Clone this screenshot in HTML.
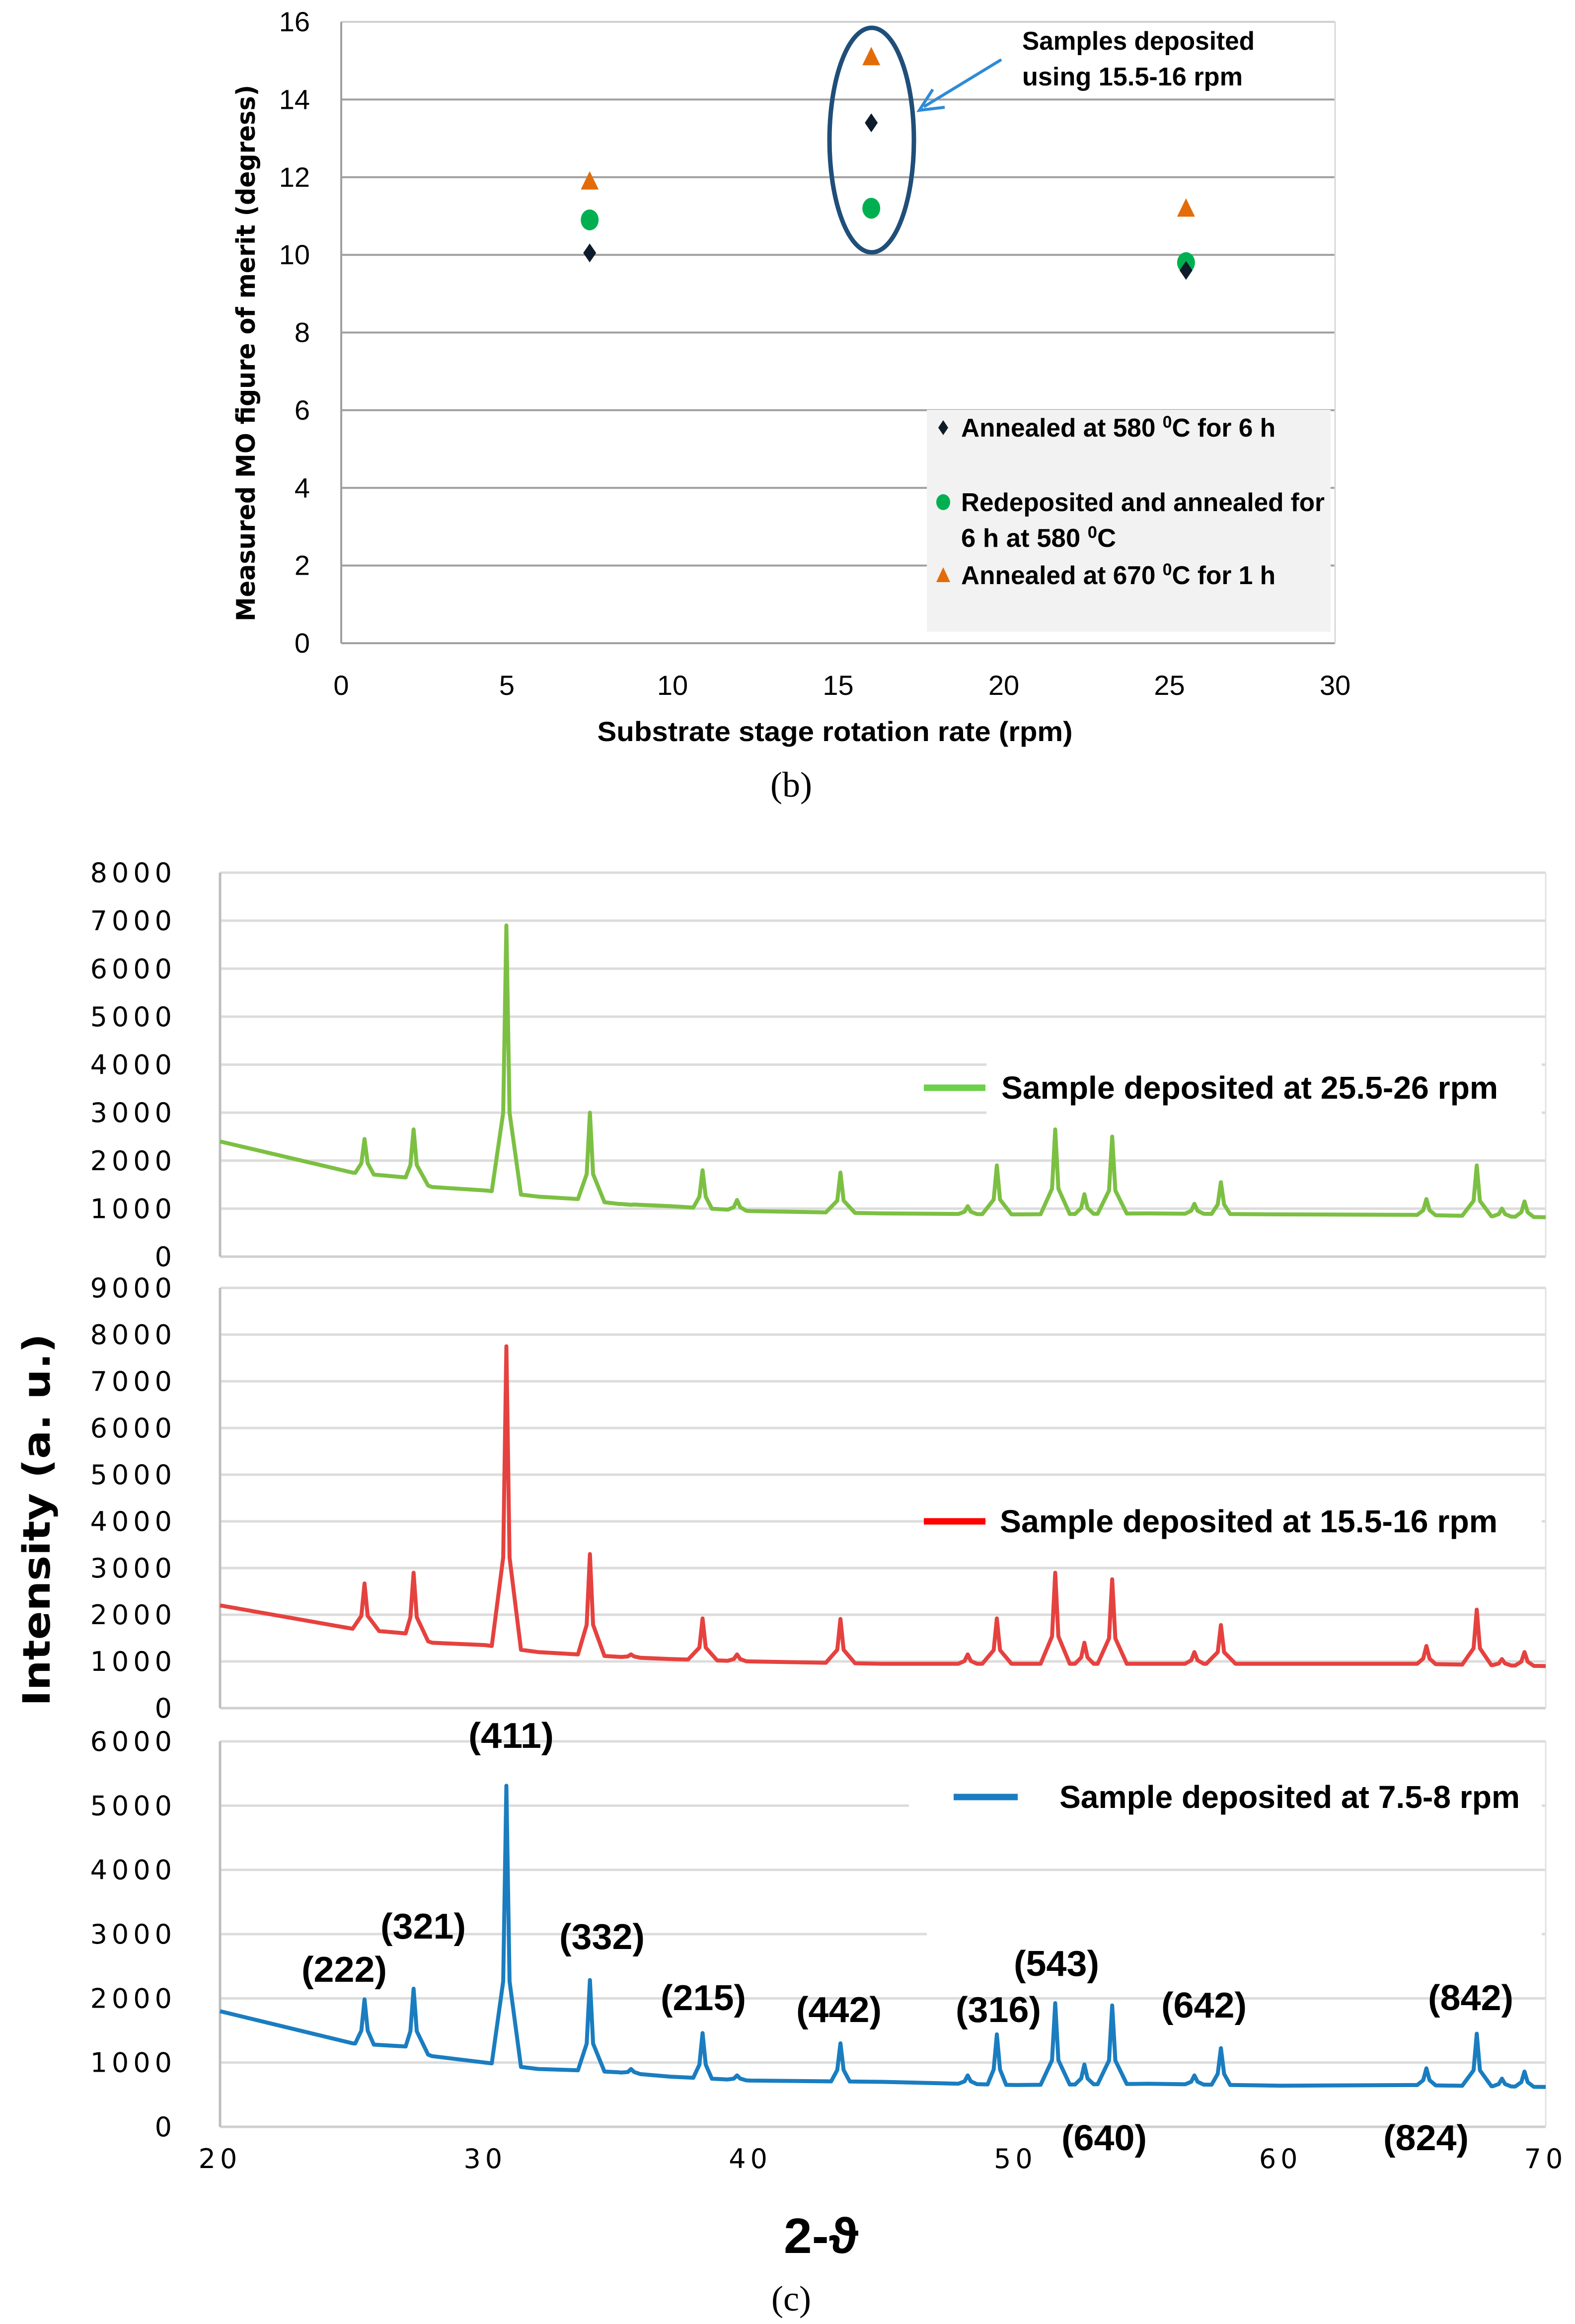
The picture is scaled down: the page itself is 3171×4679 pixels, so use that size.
<!DOCTYPE html>
<html>
<head>
<meta charset="utf-8">
<style>
html,body{margin:0;padding:0;background:#fff;}
svg{display:block;}
.cond{font-family:"Liberation Sans Narrow","Liberation Sans",sans-serif;font-weight:bold;fill:#000;}
.verd{font-family:"DejaVu Sans","Liberation Sans",sans-serif;fill:#000;}
.serif{font-family:"Liberation Serif",serif;fill:#000;}
</style>
</head>
<body>
<svg id="fig" xmlns="http://www.w3.org/2000/svg" width="3171" height="4679" viewBox="0 0 3171 4679">
<g id="chartB"></g>
<g id="chartC"></g>
</svg>
<script>
// ---------- Chart (b) data ----------
const rpmX = [7.5, 16, 25.5];
const annealed580 = [10.05, 13.4, 9.6];
const redeposited580 = [10.9, 11.2, 9.8];
const annealed670 = [11.9, 15.1, 11.2];
const bYTicks = [0, 2, 4, 6, 8, 10, 12, 14, 16];
const bXTicks = [0, 5, 10, 15, 20, 25, 30];

// ---------- Chart (c) data ----------
const xrdXTicks = [20, 30, 40, 50, 60, 70];
const greenYTicks = [0, 1000, 2000, 3000, 4000, 5000, 6000, 7000, 8000];
const redYTicks = [0, 1000, 2000, 3000, 4000, 5000, 6000, 7000, 8000, 9000];
const blueYTicks = [0, 1000, 2000, 3000, 4000, 5000, 6000];
const baseTheta = [20, 25, 27, 28, 30, 32, 33.5, 35, 37, 40, 45, 50, 55, 60, 65, 70];
const greenBase = [2400, 1750, 1650, 1450, 1380, 1250, 1200, 1100, 1050, 950, 900, 880, 900, 880, 870, 820];
const redBase = [2200, 1700, 1600, 1400, 1350, 1200, 1150, 1100, 1050, 1000, 950, 950, 950, 950, 950, 900];
const blueBase = [1800, 1300, 1250, 1100, 1000, 900, 880, 850, 780, 720, 700, 650, 670, 640, 650, 620];
const peakTheta = [25.45, 27.3, 30.8, 33.95, 35.5, 38.2, 39.5, 43.4, 48.2, 49.3, 51.5, 52.6, 53.65, 56.75, 57.75, 65.5, 67.4, 68.35, 69.2];
const greenPeaks = [2450, 2650, 6900, 3000, 1080, 1800, 1180, 1750, 1050, 1900, 2650, 1300, 2500, 1100, 1550, 1200, 1900, 1000, 1150];
const redPeaks = [2670, 2900, 7750, 3300, 1150, 1920, 1150, 1910, 1150, 1920, 2900, 1400, 2760, 1200, 1780, 1330, 2110, 1050, 1200];
const bluePeaks = [1985, 2150, 5310, 2285, 900, 1460, 800, 1300, 800, 1440, 1925, 970, 1890, 800, 1225, 910, 1450, 750, 860];
const hklLabels = ["(411)", "(321)", "(222)", "(332)", "(215)", "(442)", "(316)", "(543)", "(642)", "(842)", "(640)", "(824)"];

const NS = "http://www.w3.org/2000/svg";
function mk(parent, tag, attrs, text) {
  const e = document.createElementNS(NS, tag);
  for (const k in attrs) e.setAttribute(k, attrs[k]);
  if (text !== undefined) e.textContent = text;
  parent.appendChild(e);
  return e;
}

// ===== Chart b =====
(function () {
  const g = document.getElementById("chartB");
  const L = 687, R = 2688, T = 44, B = 1295;
  const xs = v => L + (v - 0) / 30 * (R - L);
  const ys = v => B - v / 16 * (B - T);
  bYTicks.forEach(v => {
    const ln = mk(g, "line", {x1: L, x2: R, y1: ys(v), y2: ys(v), stroke: v === 16 ? "#d0d0d0" : "#a0a0a0", "stroke-width": 4});
    
    
    const t = mk(g, "text", {x: 624, y: ys(v) + 19, "text-anchor": "end", "font-size": 56, class: "cond", style: "font-weight:normal"}, String(v));
    
    
  });
  mk(g, "line", {x1: L, x2: L, y1: T, y2: B, stroke: "#a0a0a0", "stroke-width": 4,  });
  mk(g, "line", {x1: R, x2: R, y1: T, y2: B, stroke: "#d8d8d8", "stroke-width": 3,  });
  bXTicks.forEach(v => {
    const t = mk(g, "text", {x: xs(v), y: 1399, "text-anchor": "middle", "font-size": 56, class: "cond", style: "font-weight:normal"}, String(v));
    
    
  });
  mk(g, "rect", {x: 1866, y: 825, width: 813, height: 447, fill: "#f2f2f2",  });
  mk(g, "ellipse", {cx: 1755, cy: 282, rx: 85, ry: 226, fill: "none", stroke: "#1f4e79", "stroke-width": 9,  });
  mk(g, "line", {x1: 2016, y1: 120, x2: 1860, y2: 215, stroke: "#2e8bd6", "stroke-width": 6,  });
  mk(g, "polyline", {points: "1878,180 1851,222 1902,216", fill: "none", stroke: "#2e8bd6", "stroke-width": 6,  });
  mk(g, "text", {x: 2058, y: 100, "font-size": 52, class: "cond", textLength: 468, lengthAdjust: "spacingAndGlyphs",  }, "Samples deposited");
  mk(g, "text", {x: 2058, y: 172, "font-size": 52, class: "cond", textLength: 444, lengthAdjust: "spacingAndGlyphs",  }, "using 15.5-16 rpm");

  function diamond(cx, cy, w, h) { return `${cx},${cy-h} ${cx+w},${cy} ${cx},${cy+h} ${cx-w},${cy}`; }
  function tri(cx, cy) { return `${cx},${cy-20} ${cx+18},${cy+17} ${cx-18},${cy+17}`; }
  rpmX.forEach((x, i) => {
    const p1 = mk(g, "polygon", {points: tri(xs(x), ys(annealed670[i])), fill: "#e36c09"});
    
    
    const p2 = mk(g, "ellipse", {cx: xs(x), cy: ys(redeposited580[i]), rx: 18, ry: 21, fill: "#00b050"});
    
    
    const p3 = mk(g, "polygon", {points: diamond(xs(x), ys(annealed580[i]), 13, 19), fill: "#0d1b2a"});
    
    
  });
  mk(g, "polygon", {points: diamond(1899, 861, 10, 15), fill: "#0d1b2a",  });
  mk(g, "ellipse", {cx: 1899, cy: 1011, rx: 14, ry: 16, fill: "#00b050",  });
  mk(g, "polygon", {points: "1899,1142 1913,1172 1885,1172", fill: "#e36c09",  });
  const lt = [
    [861, "Annealed at 580 ", "C for 6 h", 633, "legend-entry-580"],
    [1011, "Redeposited and annealed for", "", 732, "legend-entry-redeposited"],
    [1083, "6 h at 580 ", "C", 312, "legend-entry-redeposited-2"],
    [1158, "Annealed at 670 ", "C for 1 h", 633, "legend-entry-670"]
  ];
  lt.forEach(([y, a, b, w, nm]) => {
    const t = mk(g, "text", {x: 1935, y: y + 18, "font-size": 52, class: "cond", textLength: w, lengthAdjust: "spacingAndGlyphs"});
    
    
    mk(t, "tspan", {}, a);
    if (b) {
      mk(t, "tspan", {dy: -18, "font-size": 34}, "0");
      mk(t, "tspan", {dy: 18}, b);
    }
  });
  mk(g, "text", {x: 1681, y: 1492, "font-size": 56, "text-anchor": "middle", class: "cond", textLength: 957, lengthAdjust: "spacingAndGlyphs",  }, "Substrate stage rotation rate (rpm)");
  mk(g, "text", {x: 0, y: 0, "font-size": 52, "font-weight": "bold", "text-anchor": "middle", class: "verd", textLength: 1080, lengthAdjust: "spacingAndGlyphs", transform: "translate(513,711) rotate(-90)",  }, "Measured MO figure of merit (degress)");
  mk(g, "text", {x: 1593, y: 1604, "font-size": 72, "text-anchor": "middle", class: "serif",  }, "(b)");
})();

// ===== Chart c =====
(function () {
  const g = document.getElementById("chartC");
  const L = 443, R = 3112;
  const xs = v => L + (v - 20) / 50 * (R - L);
  function interp(xArr, yArr, x) {
    for (let i = 0; i < xArr.length - 1; i++) {
      if (x >= xArr[i] && x <= xArr[i + 1]) {
        const f = (x - xArr[i]) / (xArr[i + 1] - xArr[i]);
        return yArr[i] + f * (yArr[i + 1] - yArr[i]);
      }
    }
    return yArr[yArr.length - 1];
  }
  function panel(name, T, B, ticks, base, peaks, color, legColor, legX1, legX2, legTextX, legTextW, legY, legText, bgRects) {
    const max = ticks[ticks.length - 1];
    const ys = v => B - v / max * (B - T);
    const pg = mk(g, "g", {});
    
    
    ticks.forEach(v => {
      const ln = mk(pg, "line", {x1: L, x2: R, y1: ys(v), y2: ys(v), stroke: v === 0 ? "#cfcfcf" : "#dcdcdc", "stroke-width": 5});
      
      
      const t = mk(pg, "text", {x: 355, y: ys(v) + 19, "text-anchor": "end", "font-size": 54, class: "verd", "letter-spacing": 9});
      t.textContent = String(v);
      
      
    });
    bgRects.forEach(r => {
      const rc = mk(pg, "rect", {x: r[0], y: r[1], width: r[2], height: r[3], fill: "#fff"});
      
      
    });
    mk(pg, "line", {x1: L, x2: L, y1: T, y2: B, stroke: "#bdbdbd", "stroke-width": 5,  });
    mk(pg, "line", {x1: R, x2: R, y1: T, y2: B, stroke: "#e2e2e2", "stroke-width": 3,  });
    const pts = [];
    baseTheta.forEach((x, i) => pts.push([x, base[i]]));
    peakTheta.forEach((p, i) => {
      const bl = interp(baseTheta, base, p);
      const big = peaks[i] - bl > 800;
      const w = big ? 0.55 : 0.35;
      const sh = 0.12;
      pts.push([p - w, interp(baseTheta, base, p - w)]);
      pts.push([p - sh, bl + (peaks[i] - bl) * 0.3]);
      pts.push([p, peaks[i]]);
      pts.push([p + sh, bl + (peaks[i] - bl) * 0.3]);
      pts.push([p + w, interp(baseTheta, base, p + w)]);
    });
    pts.sort((a, b) => a[0] - b[0]);
    const line = mk(pg, "polyline", {points: pts.map(p => xs(p[0]).toFixed(1) + "," + ys(p[1]).toFixed(1)).join(" "), fill: "none", stroke: color, "stroke-width": 8, "stroke-linejoin": "round"});
    
    
    mk(pg, "line", {x1: legX1, x2: legX2, y1: legY, y2: legY, stroke: legColor, "stroke-width": 13,  });
    mk(pg, "text", {x: legTextX, y: legY + 22, "font-size": 64, class: "cond", textLength: legTextW, lengthAdjust: "spacingAndGlyphs",  }, legText);
    return ys;
  }
  panel("green", 1757, 2530, greenYTicks, greenBase, greenPeaks, "#7cc043", "#6cd04a", 1860, 1984, 2016, 1000, 2190, "Sample deposited at 25.5-26 rpm", [[1986, 2120, 1118, 140]]);
  panel("red", 2593, 3439, redYTicks, redBase, redPeaks, "#e5423f", "#ff0000", 1860, 1984, 2013, 1002, 3063, "Sample deposited at 15.5-16 rpm", [[1986, 3020, 1118, 80]]);
  panel("blue", 3506, 4282, blueYTicks, blueBase, bluePeaks, "#1a7dc0", "#1a7dc0", 1920, 2049, 2133, 927, 3618, "Sample deposited at 7.5-8 rpm", [[1830, 3620, 1274, 30], [1866, 3880, 1238, 28]]);
  const hklPos = [[1029, 3495], [852, 3879], [693, 3966], [1212, 3900], [1416, 4023], [1689, 4047], [2010, 4047], [2127, 3954], [2424, 4038], [2961, 4023], [2223, 4305], [2871, 4305]];
  hklLabels.forEach((s, i) => {
    const t = mk(g, "text", {x: hklPos[i][0], y: hklPos[i][1] + 24, "text-anchor": "middle", "font-size": 72, class: "cond", textLength: 172, lengthAdjust: "spacingAndGlyphs"}, s);
    
    
  });
  xrdXTicks.forEach(v => {
    const t = mk(g, "text", {x: xs(v), y: 4365, "text-anchor": "middle", "font-size": 54, class: "verd", "letter-spacing": 9}, String(v));
    
    
  });
  mk(g, "text", {x: 1653, y: 4536, "text-anchor": "middle", "font-size": 100, class: "cond", textLength: 150, lengthAdjust: "spacingAndGlyphs",  }, "2-ϑ");
  mk(g, "text", {x: 0, y: 0, "text-anchor": "middle", "font-size": 76, "font-weight": "bold", class: "verd", textLength: 750, lengthAdjust: "spacingAndGlyphs", transform: "translate(100,3060) rotate(-90)",  }, "Intensity (a. u.)");
  mk(g, "text", {x: 1593, y: 4652, "text-anchor": "middle", "font-size": 72, class: "serif",  }, "(c)");
})();
</script>
</body>
</html>
